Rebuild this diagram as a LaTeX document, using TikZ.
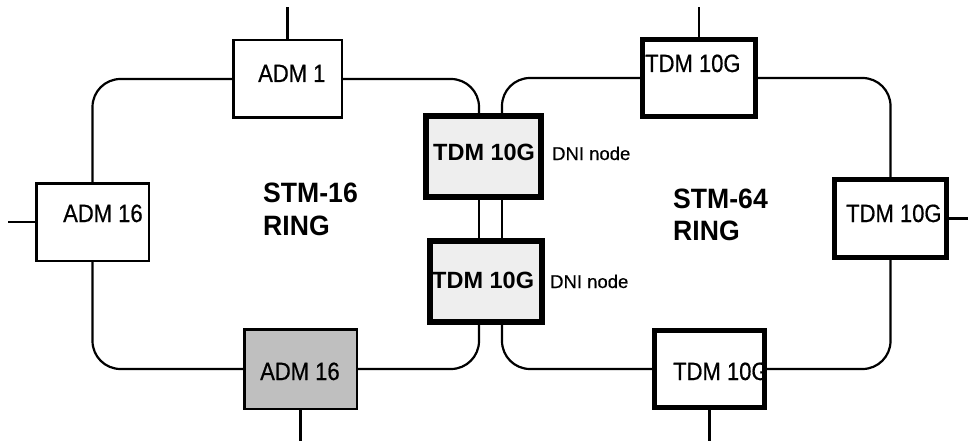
\documentclass[tikz,border=0pt]{standalone}
\usepackage{fontspec}
\setmainfont{Liberation Sans}
\newfontfamily\condfont[FakeStretch=0.88,FakeBold=0.6]{Liberation Sans}
\newfontfamily\labelfont[FakeBold=0.5]{Liberation Sans}
\newfontfamily\ringfont[FakeStretch=0.95]{Liberation Sans}
\usetikzlibrary{calc}
\begin{document}
\begin{tikzpicture}[x=1pt,y=-1pt,
  thinbox/.style={draw=black,line width=2.5pt,rectangle,inner sep=0pt,fill=white},
  thickbox/.style={draw=black,line width=5pt,rectangle,inner sep=0pt,fill=white},
  dnibox/.style={draw=black,line width=6pt,rectangle,inner sep=0pt,fill=gray!13},
  ring/.style={line width=2.2pt,rounded corners=28pt},
  stub/.style={line width=2.2pt},
  boxtext/.style={inner sep=0pt,anchor=base west,font=\condfont\fontsize{25}{28}\selectfont},
  dnitext/.style={inner sep=0pt,anchor=base west,font=\fontsize{23.5}{26}\selectfont\bfseries},
  dnilabel/.style={inner sep=0pt,anchor=base west,font=\labelfont\fontsize{18.5}{21}\selectfont},
  ringtext/.style={inner sep=0pt,anchor=base west,font=\ringfont\fontsize{28}{33}\selectfont\bfseries}]
\useasboundingbox[fill=white] (0,0) rectangle (968,441);
% boxes
\node[thinbox,minimum width=108.5pt,minimum height=77.5pt] (adm1) at (287.5,79) {};
\node[thinbox,minimum width=112.5pt,minimum height=77.5pt] (adm16l) at (92.5,222) {};
\node[thinbox,fill=gray!50,minimum width=112.5pt,minimum height=79.5pt] (adm16b) at (300.5,369) {};
\node[dnibox,minimum width=115pt,minimum height=81pt] (dni1) at (483.5,156.5) {};
\node[dnibox,minimum width=112pt,minimum height=81pt] (dni2) at (486,281.5) {};
\node[thickbox,minimum width=113pt,minimum height=77pt] (tdmT) at (699,78) {};
\node[thickbox,minimum width=112pt,minimum height=78pt] (tdmR) at (890.5,218.5) {};
\node[thickbox,minimum width=110pt,minimum height=77pt] (tdmB) at (709.5,369) {};
% helper coordinates
\coordinate (lx) at (479,0);
\coordinate (rx) at (502,0);
\coordinate (topy) at (0,7);
\coordinate (boty) at (0,441);
\coordinate (leftx) at (8,0);
\coordinate (rightx) at (968,0);
% STM-16 ring
\draw[ring] (adm1.west) -| (adm16l.north);
\draw[ring] (adm1.east) -| (dni1.north -| lx);
\draw[ring] (adm16l.south) |- (adm16b.west);
\draw[ring] (dni2.south -| lx) |- (adm16b.east);
\draw[stub] (dni1.south -| lx) -- (dni2.north -| lx);
% STM-64 ring
\draw[ring] (tdmT.west) -| (dni1.north -| rx);
\draw[ring] (tdmT.east) -| (tdmR.north);
\draw[ring] (tdmR.south) |- (tdmB.east);
\draw[ring] (dni2.south -| rx) |- (tdmB.west);
\draw[stub] (dni1.south -| rx) -- (dni2.north -| rx);
% tributary stubs
\draw[stub] (adm1.north) -- (adm1.north |- topy);
\draw[stub] (adm16l.west) -- (adm16l.west -| leftx);
\draw[stub] (adm16b.south) -- (adm16b.south |- boty);
\draw[stub] (tdmT.north) -- (tdmT.north |- topy);
\draw[stub] (tdmR.east) -- (tdmR.east -| rightx);
\draw[stub] (tdmB.south) -- (tdmB.south |- boty);
% texts
\node[boxtext] (t1) at (258,82) {ADM 1};
\node[boxtext] (t2) at (63,222) {ADM 16};
\node[boxtext] (t3) at (260,380) {ADM 16};
\node[boxtext] (t4) at (645,72) {TDM 10G};
\node[boxtext] (t5) at (846,222) {TDM 10G};
\node[boxtext] (t6) at (673,380) {TDM 10G};
\node[dnitext] (t7) at (433,160) {TDM 10G};
\node[dnitext] (t8) at (432,288) {TDM 10G};
\node[dnilabel] (l1) at (552,160) {DNI node};
\node[dnilabel] (l2) at (550,288) {DNI node};
\node[ringtext] (r1) at (263,202) {STM-16};
\node[ringtext] (r2) at (263,235) {RING};
\node[ringtext] (r3) at (673,208) {STM-64};
\node[ringtext] (r4) at (673,240) {RING};
\end{tikzpicture}
\end{document}
